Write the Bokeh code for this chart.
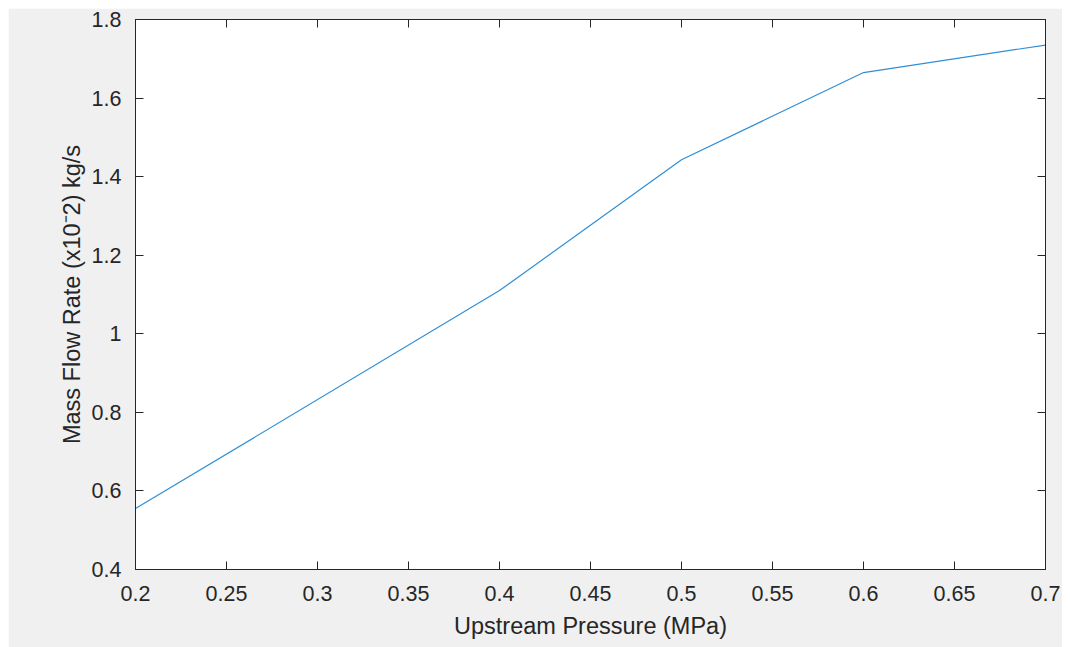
from bokeh.plotting import figure
from bokeh.models import Range1d, FixedTicker, LinearAxis, Spacer
from bokeh.layouts import column, row
from bokeh.embed import file_html
from bokeh.resources import INLINE

# Data
pressure_mpa = [0.2, 0.4, 0.5, 0.6, 0.7]
mass_flow = [0.555, 1.11, 1.443, 1.665, 1.735]

x_ticks = [0.2, 0.25, 0.3, 0.35, 0.4, 0.45, 0.5, 0.55, 0.6, 0.65, 0.7]
x_tick_labels = ["0.2", "0.25", "0.3", "0.35", "0.4", "0.45", "0.5", "0.55", "0.6", "0.65", "0.7"]
y_ticks = [0.4, 0.6, 0.8, 1.0, 1.2, 1.4, 1.6, 1.8]
y_tick_labels = ["0.4", "0.6", "0.8", "1", "1.2", "1.4", "1.6", "1.8"]

x_title = "Upstream Pressure (MPa)"
y_title = "Mass Flow Rate (x10\u207b2) kg/s"

BG = "#f0f0f0"
AX = "#262626"
FONT = "Liberation Sans"
TICK_FS = "21.5px"
LABEL_FS = "23.5px"

p = figure(width=1054, height=639, output_backend="svg", toolbar_location=None,
           x_range=Range1d(0.2, 0.7), y_range=Range1d(0.4, 1.8),
           x_axis_label=x_title, y_axis_label=y_title)
p.min_border_left = 127
p.min_border_right = 17
p.min_border_top = 11
p.min_border_bottom = 78
p.background_fill_color = "white"
p.border_fill_color = BG
p.outline_line_color = AX
p.outline_line_width = 1
p.xgrid.visible = False
p.ygrid.visible = False

p.line(pressure_mpa, mass_flow, line_color="#2f8fd6", line_width=1.2)

def style(axis, ticks, labels, show_labels):
    axis.ticker = FixedTicker(ticks=ticks)
    if show_labels:
        axis.major_label_overrides = {t: l for t, l in zip(ticks, labels)}
    else:
        axis.major_label_overrides = {t: "" for t in ticks}
    axis.major_tick_in = 8
    axis.major_tick_out = 0
    axis.minor_tick_in = 0
    axis.minor_tick_out = 0
    axis.axis_line_color = AX
    axis.major_tick_line_color = AX
    axis.major_label_text_color = AX
    axis.major_label_text_font = FONT
    axis.major_label_text_font_size = TICK_FS if show_labels else "1px"
    axis.axis_label_text_font = FONT
    axis.axis_label_text_font_size = LABEL_FS
    axis.axis_label_text_font_style = "normal"
    axis.axis_label_text_color = AX

style(p.xaxis[0], x_ticks, x_tick_labels, True)
style(p.yaxis[0], y_ticks, y_tick_labels, True)
p.xaxis[0].major_label_standoff = 16
p.xaxis[0].axis_label_standoff = 9
p.yaxis[0].major_label_standoff = 14
p.yaxis[0].axis_label_standoff = 4

top = LinearAxis()
style(top, x_ticks, x_tick_labels, False)
top.major_label_standoff = 0
right = LinearAxis()
style(right, y_ticks, y_tick_labels, False)
right.major_label_standoff = 0
p.add_layout(top, "above")
p.add_layout(right, "right")

layout = column(Spacer(height=8), row(Spacer(width=8), p))
open("out.html", "w").write(file_html(layout, INLINE))
